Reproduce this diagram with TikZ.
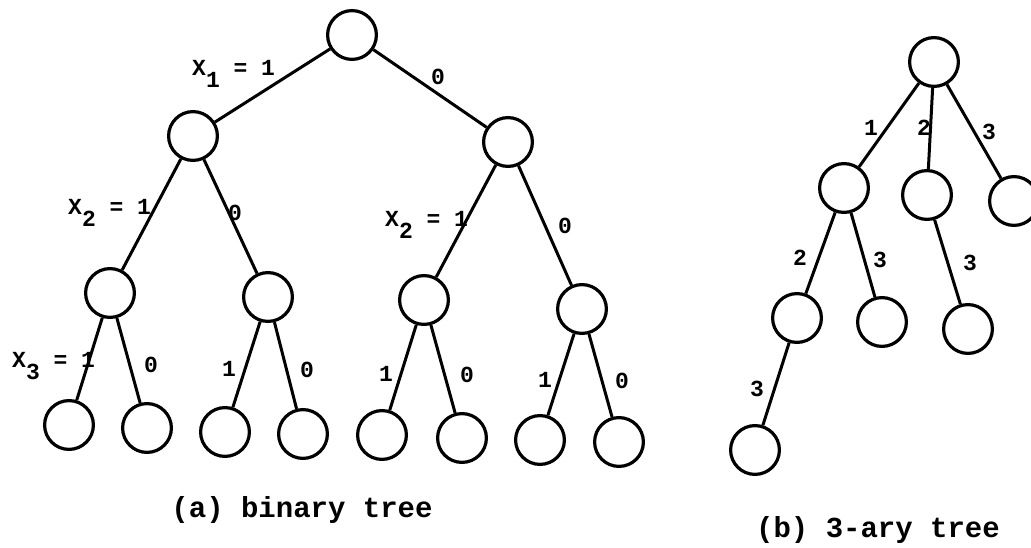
\documentclass[tikz,border=0pt]{standalone}
\usepackage{fontspec}
\setmonofont{Liberation Mono}
\newcommand\sbs[1]{\raisebox{-12pt}{#1}}
\begin{document}
\begin{tikzpicture}[x=1pt,y=-1pt,
  vtx/.style={circle,draw,line width=3.2pt,minimum size=48.8pt,inner sep=0pt},
  edge/.style={line width=3pt},
  lbl/.style={font=\ttfamily\bfseries\fontsize{23}{23}\selectfont,inner sep=0pt},
  captxt/.style={font=\ttfamily\bfseries\fontsize{29}{29}\selectfont,inner sep=0pt,anchor=base}]
\useasboundingbox (0,0) rectangle (1031,548);
% binary tree
\node[vtx] (r)   at (352,35)  {};
\node[vtx] (a)   at (193,136) {};
\node[vtx] (b)   at (508,142) {};
\node[vtx] (aa)  at (110,293) {};
\node[vtx] (ab)  at (268,297) {};
\node[vtx] (ba)  at (424,300) {};
\node[vtx] (bb)  at (582,309) {};
\node[vtx] (aaa) at (69,425)  {};
\node[vtx] (aab) at (147,428) {};
\node[vtx] (aba) at (225,432) {};
\node[vtx] (abb) at (303,434) {};
\node[vtx] (baa) at (382,435) {};
\node[vtx] (bab) at (462,438) {};
\node[vtx] (bba) at (540,440) {};
\node[vtx] (bbb) at (619,442) {};
\draw[edge] (r) -- (a);
\draw[edge] (r) -- (b);
\draw[edge] (a) -- (aa);
\draw[edge] (a) -- (ab);
\draw[edge] (b) -- (ba);
\draw[edge] (b) -- (bb);
\draw[edge] (aa) -- (aaa);
\draw[edge] (aa) -- (aab);
\draw[edge] (ab) -- (aba);
\draw[edge] (ab) -- (abb);
\draw[edge] (ba) -- (baa);
\draw[edge] (ba) -- (bab);
\draw[edge] (bb) -- (bba);
\draw[edge] (bb) -- (bbb);
% binary labels
\node[lbl,anchor=base west] (l1) at (192,76) {X\sbs{1} = 1};
\node[lbl] (l2) at (438,77) {0};
\node[lbl,anchor=base west] (l3) at (68,215) {X\sbs{2} = 1};
\node[lbl] (l4) at (235,213) {0};
\node[lbl,anchor=base west] (l5) at (385,227) {X\sbs{2} = 1};
\node[lbl] (l6) at (565,226) {0};
\node[lbl,anchor=base west] (l7) at (12,367) {X\sbs{3} = 1};
\node[lbl] (l8) at (151,365) {0};
\node[lbl] (l9) at (229,369) {1};
\node[lbl] (l10) at (307,370) {0};
\node[lbl] (l11) at (386,374) {1};
\node[lbl] (l12) at (467,375) {0};
\node[lbl] (l13) at (545,380) {1};
\node[lbl] (l14) at (622,381) {0};
\node[captxt] (capa) at (302,517) {(a) binary tree};
% 3-ary tree
\node[vtx] (t)   at (934,62)  {};
\node[vtx] (t1)  at (844,188) {};
\node[vtx] (t2)  at (927,195) {};
\node[vtx] (t3)  at (1014,201) {};
\node[vtx] (t12) at (797,318) {};
\node[vtx] (t13) at (882,322) {};
\node[vtx] (t23) at (968,329) {};
\node[vtx] (t123) at (755,450) {};
\draw[edge] (t) -- (t1);
\draw[edge] (t) -- (t2);
\draw[edge] (t) -- (t3);
\draw[edge] (t1) -- (t12);
\draw[edge] (t1) -- (t13);
\draw[edge] (t2) -- (t23);
\draw[edge] (t12) -- (t123);
\node[lbl] (m1) at (871,128) {1};
\node[lbl] (m2) at (924,128) {2};
\node[lbl] (m3) at (989,132) {3};
\node[lbl] (m4) at (800,258) {2};
\node[lbl] (m5) at (880,260) {3};
\node[lbl] (m6) at (970,263) {3};
\node[lbl] (m7) at (757,389) {3};
\node[captxt] (capb) at (878,537) {(b) 3-ary tree};
\end{tikzpicture}
\end{document}
